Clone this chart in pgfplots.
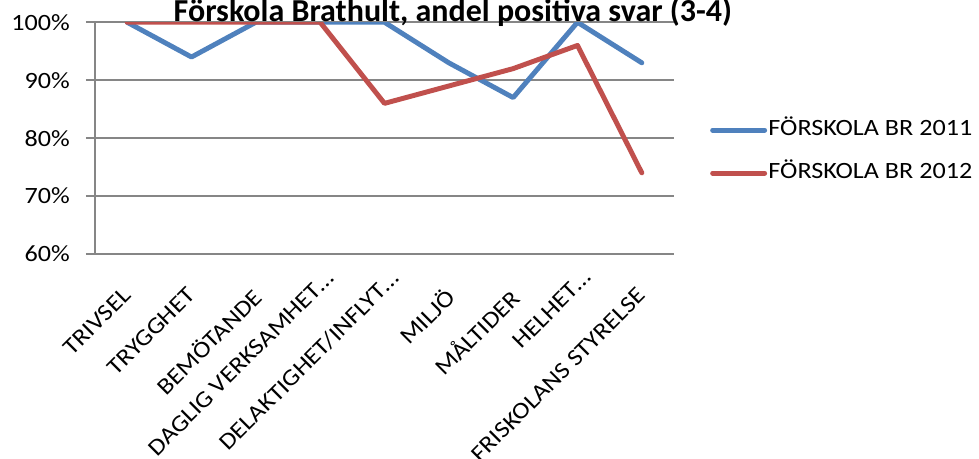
\documentclass[border=0pt]{standalone}
\usepackage{fontspec}
\setmainfont{Carlito}[FakeStretch=1.12]
\newfontfamily\titlefont{Carlito}
\usepackage{pgfplots}
\pgfplotsset{compat=1.18}
\definecolor{xlblue}{HTML}{4F81BD}
\definecolor{xlred}{HTML}{C0504D}
\definecolor{xlgrid}{HTML}{868686}
\newcommand{\trunc}[1]{\raisebox{4pt}[\height][\depth]{#1\hspace*{-14.5pt}}}
\begin{document}
\begin{tikzpicture}
\begin{axis}[
  scale only axis,
  width=434.25pt, height=173.8pt,
  xmin=-0.5, xmax=8.5, ymin=60, ymax=100,
  axis lines*=left,
  axis line style={xlgrid, line width=1.4pt},
  tick align=outside,
  xtick={0,...,8},
  xticklabels={TRIVSEL,TRYGGHET,BEMÖTANDE,\trunc{DAGLIG VERKSAMHET…},\trunc{DELAKTIGHET/INFLYT…},MILJÖ,MÅLTIDER,\trunc{HELHET…},FRISKOLANS STYRELSE},
  x tick style={draw=none},
  extra x ticks={-0.5,0.5,...,8.5},
  extra x tick labels={},
  extra x tick style={tick style={draw=xlgrid, line width=1.4pt}, major tick length=6pt},
  ytick={60,70,80,90,100},
  yticklabels={60\%,70\%,80\%,90\%,100\%},
  y tick style={draw=xlgrid, line width=1.4pt},
  major tick length=6.75pt,
  ymajorgrids,
  major grid style={xlgrid, line width=1.4pt},
  tick label style={font=\fontsize{17.5}{20}\selectfont},
  xticklabel style={xshift=-4.25pt, yshift=-17pt, rotate=45, anchor=north east, inner sep=0pt},
  yticklabel style={inner sep=0pt, xshift=-12pt},
  title={Förskola Brathult, andel positiva svar (3-4)},
  title style={at={(axis description cs:0.618,1.014)}, anchor=base, yshift=-7.5pt, font=\titlefont\fontsize{24}{27}\selectfont\bfseries, inner sep=0pt},
  legend style={at={(axis description cs:1.062,0.442)}, anchor=west, draw=none, fill=none, inner sep=0pt,
    font=\fontsize{17.5}{20}\selectfont, row sep=14.25pt,
    nodes={inner sep=1pt, text height=12pt, text depth=4pt, anchor=west}},
  legend cell align=left,
  legend image code/.code={\draw[#1, line cap=round] (0pt,0pt) -- (39pt,0pt);},
  every axis plot/.append style={line width=3.7pt, line join=round, line cap=round},
]
\addplot[xlblue] coordinates {(0,100) (1,94) (2,100) (3,100) (4,100) (5,93) (6,87) (7,100) (8,93)};
\addlegendentry{FÖRSKOLA BR 2011}
\addplot[xlred] coordinates {(0,100) (1,100) (2,100) (3,100) (4,86) (5,89) (6,92) (7,96) (8,74)};
\addlegendentry{FÖRSKOLA BR 2012}
\end{axis}
\pgfresetboundingbox
\useasboundingbox (-71.25pt,-153.75pt) rectangle (663pt,190.5pt);
\end{tikzpicture}
\end{document}
